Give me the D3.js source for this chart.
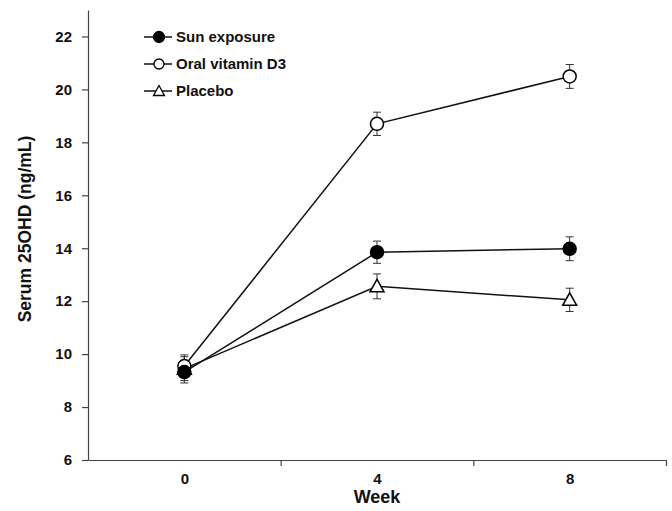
<!DOCTYPE html>
<html>
<head>
<meta charset="utf-8">
<script src="https://cdn.jsdelivr.net/npm/d3@7"></script>
<style>
  body { margin: 0; background: #fff; }
  text { font-family: "Liberation Sans", Arial, sans-serif; font-weight: bold; fill: #111; }
  .axis path, .axis line { stroke: #444; stroke-width: 1.2px; }
</style>
</head>
<body>
<div id="chart"></div>
<script>
// data
var weeks = [0, 4, 8];
var sunMean = [9.32, 13.85, 13.98];
var sunErr = [0.41, 0.42, 0.45];
var oralMean = [9.55, 18.7, 20.49];
var oralErr = [0.42, 0.44, 0.45];
var placeboMean = [9.45, 12.56, 12.05];
var placeboErr = [0.45, 0.47, 0.44];
var seriesNames = ["Sun exposure", "Oral vitamin D3", "Placebo"];
var yTicks = [6, 8, 10, 12, 14, 16, 18, 20, 22];
var xBoundaries = [2, 6, 10];

(function chart() {
  var margin = { top: 10, right: 6, bottom: 51, left: 88 },
    width = 672 - margin.left - margin.right,
    height = 511 - margin.top - margin.bottom;

  var x = d3.scaleLinear().domain([-2, 10]).range([0, width]);
  var y = d3.scaleLinear().domain([6, 23]).range([height, 0]);

  var svg = d3.select("#chart").append("svg")
    .attr("width", 672)
    .attr("height", 511);

  var g = svg.append("g")
    .attr("transform", "translate(" + margin.left + "," + margin.top + ")");

  // axes
  g.append("g")
    .attr("class", "axis")
    .call(d3.axisLeft(y).tickValues(yTicks).tickSize(6).tickSizeOuter(0))
    .call(function(a) { a.selectAll("text").attr("x", -16).style("font-size", "15px"); });

  g.append("g")
    .attr("class", "axis")
    .attr("transform", "translate(0," + height + ")")
    .call(d3.axisBottom(x).tickValues(xBoundaries).tickFormat("").tickSize(6).tickSizeOuter(0));

  g.append("g")
    .attr("transform", "translate(0," + height + ")")
    .call(d3.axisBottom(x).tickValues(weeks).tickSize(0).tickFormat(d3.format("d")))
    .call(function(a) {
      a.select(".domain").remove();
      a.selectAll("text").attr("y", 13).style("font-size", "15px");
    });

  svg.append("text")
    .text("Week")
    .attr("x", margin.left + x(4))
    .attr("y", 503)
    .attr("text-anchor", "middle")
    .style("font-size", "18px");

  svg.append("text")
    .text("Serum 25OHD (ng/mL)")
    .attr("transform", "translate(31,229) rotate(-90)")
    .attr("text-anchor", "middle")
    .style("font-size", "17.5px");

  var series = [
    { name: seriesNames[2], mean: placeboMean, err: placeboErr, shape: "tri", fill: "#fff" },
    { name: seriesNames[1], mean: oralMean, err: oralErr, shape: "circle", fill: "#fff" },
    { name: seriesNames[0], mean: sunMean, err: sunErr, shape: "circle", fill: "#000" }
  ];

  var line = d3.line()
    .x(function(d) { return x(d[0]); })
    .y(function(d) { return y(d[1]); });

  function drawMarker(sel, s) {
    if (s.shape === "circle") {
      sel.append("circle").attr("r", 6.5)
        .attr("fill", s.fill).attr("stroke", "#000").attr("stroke-width", 1.5);
    } else {
      sel.append("path").attr("d", "M0,-7L7,5.5L-7,5.5Z")
        .attr("fill", s.fill).attr("stroke", "#000").attr("stroke-width", 1.5);
    }
  }

  // error bars
  series.forEach(function(s) {
    weeks.forEach(function(w, i) {
      var cx = x(w), hi = y(s.mean[i] + s.err[i]), lo = y(s.mean[i] - s.err[i]);
      var eb = g.append("g").attr("stroke", "#333").attr("stroke-width", 1);
      eb.append("line").attr("x1", cx).attr("x2", cx).attr("y1", hi).attr("y2", lo);
      eb.append("line").attr("x1", cx - 4).attr("x2", cx + 4).attr("y1", hi).attr("y2", hi);
      eb.append("line").attr("x1", cx - 4).attr("x2", cx + 4).attr("y1", lo).attr("y2", lo);
    });
  });

  // lines
  series.forEach(function(s) {
    g.append("path")
      .datum(weeks.map(function(w, i) { return [w, s.mean[i]]; }))
      .attr("fill", "none")
      .attr("stroke", "#111")
      .attr("stroke-width", 1.5)
      .attr("d", line);
  });

  // markers
  series.forEach(function(s) {
    weeks.forEach(function(w, i) {
      var m = g.append("g").attr("transform", "translate(" + x(w) + "," + y(s.mean[i]) + ")");
      drawMarker(m, s);
    });
  });

  // legend
  var legendOrder = [series[2], series[1], series[0]];
  var legend = svg.selectAll(".legend")
    .data(legendOrder)
    .enter().append("g")
    .attr("class", "legend")
    .attr("transform", function(d, i) { return "translate(144," + (37 + i * 27) + ")"; });

  legend.append("line")
    .attr("x1", 0).attr("x2", 28)
    .attr("stroke", "#111").attr("stroke-width", 1.5);

  legend.each(function(d) {
    var m = d3.select(this).append("g").attr("transform", "translate(15,0)");
    if (d.shape === "circle") {
      m.append("circle").attr("r", d.fill === "#000" ? 5.5 : 5)
        .attr("fill", d.fill).attr("stroke", "#000").attr("stroke-width", 1.3);
    } else {
      m.append("path").attr("d", "M0,-5.5L5.5,4.5L-5.5,4.5Z")
        .attr("fill", "#fff").attr("stroke", "#000").attr("stroke-width", 1.3);
    }
  });

  legend.append("text")
    .text(function(d) { return d.name; })
    .attr("x", 32)
    .attr("dy", "0.35em")
    .style("font-size", "15px");
})();
</script>
</body>
</html>
